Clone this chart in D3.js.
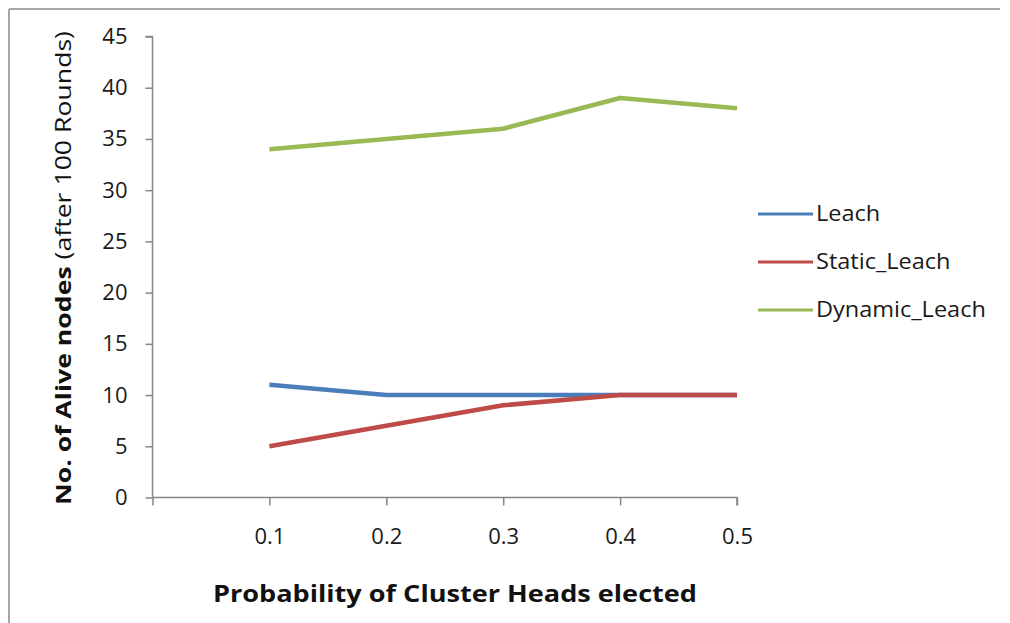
<!DOCTYPE html>
<html><head><meta charset="utf-8">
<script src="https://cdn.jsdelivr.net/npm/d3@7"></script>
<style>html,body{margin:0;padding:0;background:#fff;}svg{display:block;}</style>
</head><body>
<svg id="c" width="1010" height="623"></svg>
<script>
const categories = ["", "0.1", "0.2", "0.3", "0.4", "0.5"];
const xLabels = ["0.1", "0.2", "0.3", "0.4", "0.5"];
const leach = [11, 10, 10, 10, 10];
const staticLeach = [5, 7, 9, 10, 10];
const dynamicLeach = [34, 35, 36, 39, 38];
const seriesNames = ["Leach", "Static_Leach", "Dynamic_Leach"];
const seriesColors = ["#4A7EBB", "#BE4B48", "#98B954"];
const yTicks = [0, 5, 10, 15, 20, 25, 30, 35, 40, 45];

const series = [leach, staticLeach, dynamicLeach].map((v, i) => ({name: seriesNames[i], color: seriesColors[i], values: v}));

const svg = d3.select("#c");
const font = "'Open Sans', 'DejaVu Sans', sans-serif";
const axisColor = "#868686";

// outer border (top and left visible)
svg.append("line").attr("x1", 9).attr("y1", 9).attr("x2", 1000).attr("y2", 9).attr("stroke", "#a6a6a6").attr("stroke-width", 2);
svg.append("line").attr("x1", 9).attr("y1", 9).attr("x2", 9).attr("y2", 623).attr("stroke", "#a6a6a6").attr("stroke-width", 2);

const x = d3.scalePoint().domain(categories).range([152.5, 737]);
const y = d3.scaleLinear().domain([0, 45]).range([497.5, 36.5]);

// y axis
const ya = svg.append("g").attr("transform", "translate(152.5,0)")
  .call(d3.axisLeft(y).tickValues(yTicks).tickSize(7).tickPadding(18));
ya.select(".domain").attr("stroke", axisColor).attr("stroke-width", 1.5).attr("d", `M-7,${y(45)}H0V${y(0)}`);
ya.selectAll(".tick line").attr("stroke", axisColor).attr("stroke-width", 1.5);
ya.selectAll(".tick text").attr("font-family", font).attr("font-size", 22).attr("fill", "#1a1a1a");

// x axis
const xa = svg.append("g").attr("transform", "translate(0,497.5)")
  .call(d3.axisBottom(x).tickSize(8).tickPadding(23).tickFormat(d => d));
xa.select(".domain").attr("stroke", axisColor).attr("stroke-width", 1.5).attr("d", `M${x(categories[0])},0H${x(categories[5])}V8`);
xa.selectAll(".tick line").attr("stroke", axisColor).attr("stroke-width", 1.5);
xa.selectAll(".tick text").attr("font-family", font).attr("font-size", 22).attr("fill", "#1a1a1a");

// lines
const line = d3.line().x((d, i) => x(xLabels[i])).y(d => y(d));
svg.append("g").selectAll("path").data(series).join("path")
  .attr("d", d => line(d.values))
  .attr("fill", "none").attr("stroke", d => d.color).attr("stroke-width", 4.5)
  .attr("stroke-linejoin", "round").attr("stroke-linecap", "butt");

// legend
const legendY = [214, 262, 310];
const lg = svg.append("g");
series.forEach((s, i) => {
  lg.append("line").attr("x1", 758).attr("x2", 813).attr("y1", legendY[i]).attr("y2", legendY[i])
    .attr("stroke", s.color).attr("stroke-width", 3);
  lg.append("text").attr("x", 816).attr("y", legendY[i] + 7).text(s.name)
    .attr("font-family", font).attr("font-size", 21).attr("fill", "#1a1a1a");
});
// stretch legend labels to the reference width
const legendWidthScale = 1.12;
lg.selectAll("text").each(function() {
  const w = this.getComputedTextLength();
  d3.select(this).attr("textLength", w * legendWidthScale).attr("lengthAdjust", "spacingAndGlyphs");
});

// x title
svg.append("text").attr("x", 455).attr("y", 602).attr("text-anchor", "middle")
  .attr("font-family", font).attr("font-weight", "bold").attr("font-size", 23).attr("fill", "#111")
  .attr("textLength", 484).attr("lengthAdjust", "spacingAndGlyphs")
  .text("Probability of Cluster Heads elected");

// y title
const yt = svg.append("text").attr("transform", "translate(71,268) rotate(-90)").attr("text-anchor", "middle")
  .attr("font-family", font).attr("font-size", 21).attr("fill", "#111")
  .attr("textLength", 474).attr("lengthAdjust", "spacingAndGlyphs");
yt.append("tspan").attr("font-weight", "bold").text("No. of Alive nodes ");
yt.append("tspan").text("(after 100 Rounds)");
</script>
</body></html>
